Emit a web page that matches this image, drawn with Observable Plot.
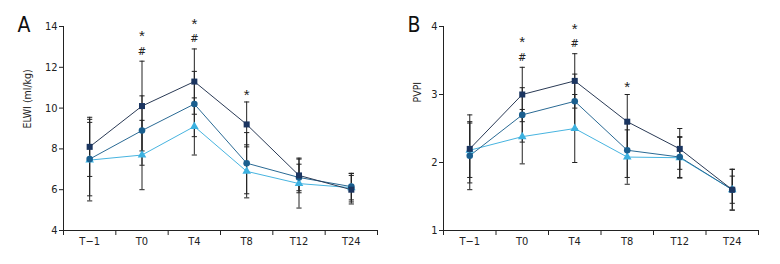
<!DOCTYPE html>
<html>
<head>
<meta charset="utf-8">
<script src="https://cdn.jsdelivr.net/npm/d3@7"></script>
<script src="https://cdn.jsdelivr.net/npm/@observablehq/plot@0.6"></script>
<style>
  html, body { margin: 0; padding: 0; background: #fff; }
  #wrap { display: flex; width: 780px; height: 264px; }
  svg { font-family: "Liberation Sans Narrow", "DejaVu Sans Condensed", "Roboto Condensed", sans-serif; }
</style>
</head>
<body>
<div id="wrap"></div>
<script>
// ---- data ----
const categories = ["T\u22121", "T0", "T4", "T8", "T12", "T24"];
const seriesNames = ["square", "circle", "triangle"];

// Panel A: ELWI (ml/kg)
const elwiSquare   = [8.1, 10.1, 11.3, 9.2, 6.7, 6.0];
const elwiSquareSD = [1.45, 2.2, 1.6, 1.1, 0.85, 0.7];
const elwiCircle   = [7.5, 8.9, 10.2, 7.3, 6.6, 6.15];
const elwiCircleSD = [1.8, 1.7, 1.6, 1.5, 0.65, 0.65];
const elwiTri      = [7.45, 7.7, 9.1, 6.9, 6.3, 6.1];
const elwiTriSD    = [2.0, 1.7, 1.4, 1.3, 1.2, 0.7];
const elwiTicks    = [4, 6, 8, 10, 12, 14];

// Panel B: PVPI
const pvpiSquare   = [2.2, 3.0, 3.2, 2.6, 2.2, 1.6];
const pvpiSquareSD = [0.5, 0.4, 0.4, 0.4, 0.3, 0.3];
const pvpiCircle   = [2.1, 2.7, 2.9, 2.18, 2.08, 1.6];
const pvpiCircleSD = [0.5, 0.4, 0.4, 0.4, 0.3, 0.2];
const pvpiTri      = [2.18, 2.38, 2.5, 2.08, 2.07, 1.6];
const pvpiTriSD    = [0.4, 0.4, 0.5, 0.4, 0.3, 0.3];
const pvpiTicks    = [1, 2, 3, 4];

// significance marks
const annotCats   = ["T0", "T0", "T4", "T4", "T8"];
const annotText   = ["#", "*", "#", "*", "*"];
const annotLevel  = [0, 1, 0, 1, 0];

// ---- styles ----
const markerColor = {square: "#1b3560", circle: "#1a5f8f", triangle: "#3cb1e0"};
const lineColor   = {square: "#2a3a55", circle: "#2a6a94", triangle: "#47b4e0"};
const symbolOf    = {square: "square", circle: "circle", triangle: "triangle"};
const rOf         = {square: 3.4, circle: 3.3, triangle: 3.2};
const ink = "#222";

const capSymbol = {
  draw(context) { context.moveTo(-2.6, 0); context.lineTo(2.6, 0); }
};

function buildRows(means, sds) {
  const rows = [];
  means.forEach((m, s) => {
    m.forEach((v, i) => {
      rows.push({series: seriesNames[s], i, value: v, lo: v - sds[s][i], hi: v + sds[s][i]});
    });
  });
  return rows;
}

function panel({means, sds, yDomain, yTicks, yLabel, labelDy, letter, marginLeft, marginRight}) {
  const rows = buildRows(means, sds);
  const idx = categories.map((_, i) => i);
  const bounds = idx.map(i => i - 0.5).concat([categories.length - 0.5]);
  const annots = annotCats.map((c, k) => {
    const i = categories.indexOf(c);
    const top = d3.max(rows.filter(r => r.i === i), r => r.hi);
    return {i, y: top, text: annotText[k], level: annotLevel[k]};
  });
  const marks = [
    Plot.ruleX([-0.5], {stroke: ink, strokeWidth: 1}),
    Plot.ruleY([yDomain[0]], {stroke: ink, strokeWidth: 1}),
    Plot.axisY({ticks: yTicks, tickSize: 4, tickPadding: 2, fontSize: 11, color: ink, label: null, tickFormat: d => String(d)}),
    Plot.axisX({ticks: bounds, tickSize: 5, tickFormat: () => "", label: null, color: ink}),
    Plot.axisX({ticks: idx, tickSize: 0, tickPadding: 7, tickFormat: i => categories[i], fontSize: 11, label: null, color: ink}),
    Plot.text([yLabel], {frameAnchor: "left", rotate: -90, dx: -(marginLeft - 27), dy: labelDy, fontSize: 10.5, fill: ink}),
    Plot.text([letter], {frameAnchor: "top-left", dx: -(marginLeft - 17), dy: -9, fontSize: 21, fill: "#111"}),
    // error bars
    Plot.ruleX(rows, {x: "i", y1: "lo", y2: "hi", stroke: ink, strokeWidth: 1}),
    Plot.dot(rows, {x: "i", y: "hi", symbol: capSymbol, stroke: ink, strokeWidth: 1, fill: "none", r: 3}),
    Plot.dot(rows, {x: "i", y: "lo", symbol: capSymbol, stroke: ink, strokeWidth: 1, fill: "none", r: 3}),
  ];
  [...seriesNames].reverse().forEach(s => {
    marks.push(Plot.line(rows.filter(r => r.series === s), {x: "i", y: "value", stroke: lineColor[s], strokeWidth: 1}));
  });
  [...seriesNames].reverse().forEach(s => {
    marks.push(Plot.dot(rows.filter(r => r.series === s), {x: "i", y: "value", symbol: symbolOf[s], fill: markerColor[s], r: rOf[s], stroke: "none"}));
  });
  marks.push(Plot.text(annots.filter(a => a.text === "#"), {
    x: "i", y: "y", text: "text", dy: -10, fontSize: 11, fill: ink
  }));
  [0, 1].forEach(level => {
    marks.push(Plot.text(annots.filter(a => a.text === "*" && a.level === level), {
      x: "i", y: "y", text: "text", dy: level === 0 ? -7 : -25, fontSize: 15, fill: ink,
      fontFamily: "Liberation Sans"
    }));
  });
  return Plot.plot({
    width: 390, height: 264,
    marginLeft, marginRight, marginTop: 26, marginBottom: 34,
    style: {fontFamily: '"Liberation Sans Narrow", "DejaVu Sans Condensed", sans-serif', background: "#fff", overflow: "visible"},
    x: {type: "linear", domain: [-0.5, categories.length - 0.5]},
    y: {domain: yDomain},
    marks
  });
}

const wrap = document.getElementById("wrap");
wrap.appendChild(panel({
  means: [elwiSquare, elwiCircle, elwiTri],
  sds: [elwiSquareSD, elwiCircleSD, elwiTriSD],
  yDomain: [4, 14], yTicks: elwiTicks, yLabel: "ELWI (ml/kg)", labelDy: 0, letter: "A",
  marginLeft: 63, marginRight: 13
}));
wrap.appendChild(panel({
  means: [pvpiSquare, pvpiCircle, pvpiTri],
  sds: [pvpiSquareSD, pvpiCircleSD, pvpiTriSD],
  yDomain: [1, 4], yTicks: pvpiTicks, yLabel: "PVPI", labelDy: -26, letter: "B",
  marginLeft: 53, marginRight: 22
}));
</script>
</body>
</html>
